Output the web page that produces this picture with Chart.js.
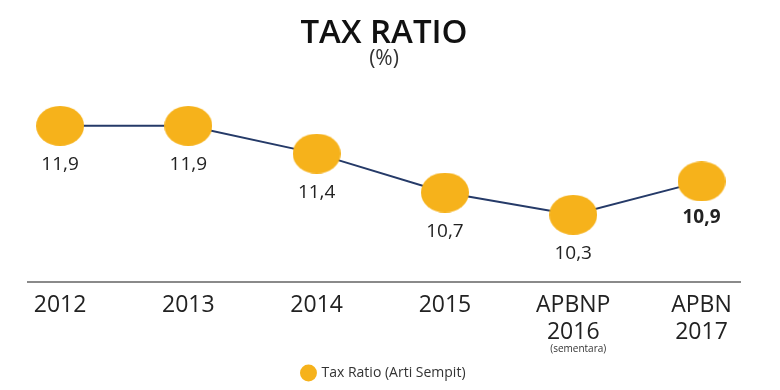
<!DOCTYPE html>
<html>
<head>
<meta charset="utf-8">
<script src="https://cdn.jsdelivr.net/npm/chart.js@4"></script>
<style>
  html, body { margin: 0; padding: 0; background: #fff; }
  #wrap { width: 780px; height: 390px; }
</style>
</head>
<body>
<div id="wrap"><canvas id="mychart" width="780" height="390"></canvas></div>
<script>
// categories (x axis), one line per row of the tick label
var labels = [['2012'], ['2013'], ['2014'], ['2015'], ['APBNP', '2016'], ['APBN', '2017']]
// small note under some ticks
var notes = ['', '', '', '', '(sementara)', '']
// tax ratio, %
var taxRatio = [11.9, 11.9, 11.4, 10.7, 10.3, 10.9]
var seriesName = 'Tax Ratio (Arti Sempit)'
// which value label is bold
var boldIndex = 5

var FONT = "'Open Sans', 'DejaVu Sans', sans-serif"
var ORANGE = '#f6b21b'
var NAVY = '#253a68'

var points = taxRatio.map(function(v, i){ return {x: i, y: v} })

// markers in the picture are a bit wider than tall
var dot = document.createElement('canvas')
dot.width = 48
dot.height = 40
var dctx = dot.getContext('2d')
dctx.fillStyle = ORANGE
dctx.beginPath()
dctx.ellipse(24, 20, 24, 20, 0, 0, Math.PI * 2)
dctx.fill()

// value labels under each point + small notes under ticks
var labelPlugin = {
    id: 'valueLabels',
    afterDatasetsDraw: function(chart){
        var ctx = chart.ctx
        var meta = chart.getDatasetMeta(0)
        ctx.save()
        ctx.textAlign = 'center'
        ctx.textBaseline = 'middle'
        ctx.fillStyle = '#222'
        meta.data.forEach(function(p, i){
            var txt = taxRatio[i].toFixed(1).replace('.', ',')
            if (i === boldIndex) {
                ctx.font = "bold 19px " + FONT
                ctx.fillText(txt, p.x, p.y + 36)
            } else {
                ctx.font = "19px " + FONT
                ctx.fillText(txt, p.x, p.y + 39)
            }
        })
        var xs = chart.scales.x
        ctx.font = "10px " + FONT
        ctx.fillStyle = '#333'
        notes.forEach(function(n, i){
            if (!n) return
            ctx.fillText(n, xs.getPixelForValue(i) + 5, xs.top + 67)
        })
        ctx.restore()
    }
}

var mychart = document.getElementById('mychart').getContext('2d')

var chart = new Chart(mychart, {
    type: 'line',
    data: {
        datasets: [
            {
                label: seriesName,
                data: points,
                borderColor: NAVY,
                borderWidth: 2,
                pointStyle: dot,
                pointRadius: 22,
                pointHoverRadius: 22,
                pointBackgroundColor: ORANGE,
                pointBorderColor: ORANGE,
                pointBorderWidth: 0,
                backgroundColor: ORANGE,
                tension: 0,
                clip: false
            }
        ]
    },
    options: {
        responsive: false,
        animation: false,
        devicePixelRatio: 1,
        layout: { padding: { left: 28, right: 40, top: 19, bottom: 0 } },
        scales: {
            x: {
                type: 'linear',
                min: -0.25,
                max: 5.3,
                afterBuildTicks: function(scale){
                    scale.ticks = labels.map(function(l, i){ return {value: i} })
                },
                afterFit: function(scale){ scale.height = 76 },
                ticks: {
                    autoSkip: false,
                    maxRotation: 0,
                    padding: 2,
                    color: '#222',
                    font: { family: FONT, size: 23, lineHeight: 1.18 },
                    callback: function(v){ return labels[v] }
                },
                grid: { display: false },
                border: { display: true, color: '#8a8a8a', width: 2 }
            },
            y: {
                display: false,
                min: 9.09,
                max: 12.55
            }
        },
        plugins: {
            title: {
                display: true,
                text: 'TAX RATIO',
                color: '#111',
                font: { family: FONT, size: 33, weight: '600', lineHeight: 0.9 },
                padding: { top: 0, bottom: 0 }
            },
            subtitle: {
                display: true,
                text: '(%)',
                color: '#333',
                font: { family: FONT, size: 21, lineHeight: 1.0 },
                padding: { top: 0, bottom: 20 }
            },
            legend: {
                position: 'bottom',
                labels: {
                    usePointStyle: true,
                    pointStyle: 'circle',
                    boxWidth: 12,
                    boxHeight: 12,
                    padding: 8,
                    color: '#333',
                    font: { family: FONT, size: 14 }
                }
            },
            tooltip: { enabled: false }
        }
    },
    plugins: [labelPlugin]
})
</script>
</body>
</html>
